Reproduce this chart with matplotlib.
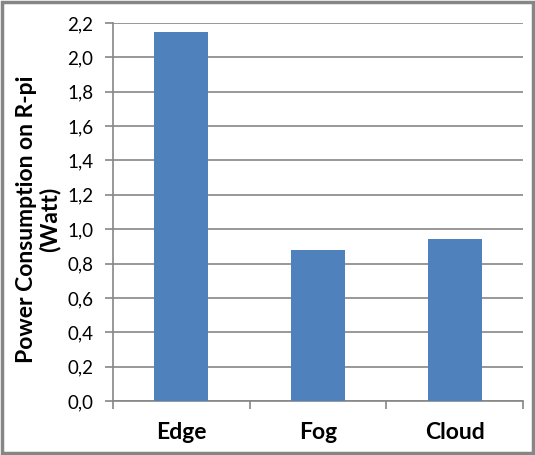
import matplotlib
matplotlib.use("Agg")
import matplotlib.pyplot as plt
from matplotlib.patches import Rectangle
import numpy as np

# data
categories = ['Edge', 'Fog', 'Cloud']
power_watt = [2.15, 0.88, 0.945]
y_ticks = [0.0, 0.2, 0.4, 0.6, 0.8, 1.0, 1.2, 1.4, 1.6, 1.8, 2.0, 2.2]

bar_color = '#4f81bd'
grid_color = '#868686'

plt.rcParams['font.family'] = ['Lato', 'DejaVu Sans']

fig = plt.figure(figsize=(5.35, 4.55), dpi=100)
ax = fig.add_axes([0.2112, 0.1187, 0.7664, 0.8308])

x = np.arange(len(categories))
ax.bar(x, power_watt, width=0.395, color=bar_color, zorder=3)

ax.set_xlim(-0.5, len(categories) - 0.5)
ax.set_ylim(0, 2.2)

# y axis ticks with comma decimals
ax.set_yticks(y_ticks)
ax.set_yticklabels([('%.1f' % v).replace('.', ',') for v in y_ticks])
ax.yaxis.grid(True, color=grid_color, linewidth=1.2, zorder=0)

# category labels centered, tick marks on boundaries
ax.set_xticks(x)
ax.set_xticklabels(categories, fontweight='bold', fontsize=16.5)
ax.tick_params(axis='x', length=0, pad=15)
ax.set_xticks(np.arange(-0.5, len(categories), 1), minor=True)
ax.tick_params(axis='x', which='minor', length=6, width=1.2, color=grid_color,
               direction='out')

ax.tick_params(axis='y', length=6, width=1.2, color=grid_color,
               labelsize=13.5, pad=8)

for side in ['top', 'right']:
    ax.spines[side].set_visible(False)
ax.spines['left'].set_color(grid_color)
ax.spines['bottom'].set_color(grid_color)
ax.spines['left'].set_linewidth(1.2)
ax.spines['bottom'].set_linewidth(1.2)

ax.set_ylabel('Power Consumption on R-pi\n(Watt)', fontweight='bold',
              fontsize=16.5, linespacing=1.1)
ax.yaxis.set_label_coords(-0.128, 0.48)

# outer chart border
fig.patches.append(Rectangle((0.003, 0.004), 0.994, 0.992,
                             transform=fig.transFigure, fill=False,
                             edgecolor='#868686', linewidth=2.5))

fig.savefig('out.png', dpi=100)
